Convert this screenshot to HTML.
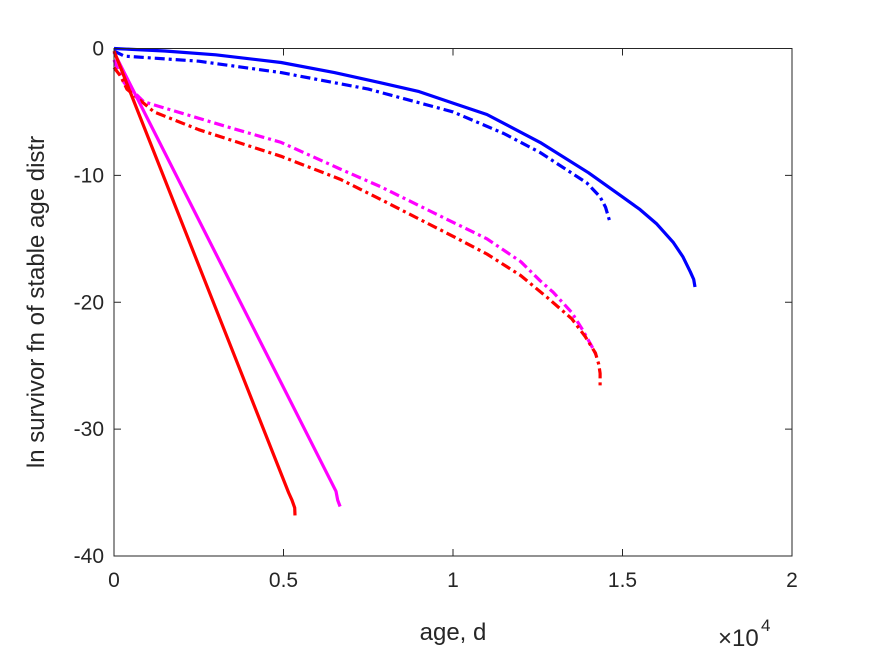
<!DOCTYPE html>
<html><head><meta charset="utf-8"><style>
html,body{margin:0;padding:0;background:#fff;}
svg{display:block;font-family:"Liberation Sans",Arial,sans-serif;}
</style></head><body>
<svg id="chart" width="875" height="656" viewBox="0 0 875 656">
<rect x="0" y="0" width="875" height="656" fill="#fff"/>
<g id="plot"></g>
<g id="axes"></g>
</svg>
<script>
const xTicks=[0,5000,10000,15000,20000];
const xTickLabels=["0","0.5","1","1.5","2"];
const yTicks=[0,-10,-20,-30,-40];
const yTickLabels=["0","-10","-20","-30","-40"];
const blueSolidX=[0,1500,3000,4930,6500,7870,9000,10000,11000,12570,14000,15000,15520,16000,16500,16780,17000,17100,17140];
const blueSolidY=[0,-0.2,-0.5,-1.1,-1.9,-2.7,-3.4,-4.3,-5.2,-7.4,-9.8,-11.7,-12.7,-13.8,-15.3,-16.4,-17.6,-18.2,-18.8];
const blueDashX=[0,300,2500,4930,7500,10000,11500,12570,13950,14340,14500,14630];
const blueDashY=[-0.2,-0.6,-1.0,-1.9,-3.2,-5.0,-6.7,-8.2,-10.6,-11.7,-12.5,-13.7];
const magDashX=[0,150,300,880,2000,3500,4930,6670,7870,10000,11000,12000,12570,12950,13500,13830,14100,14250];
const magDashY=[-0.9,-1.9,-2.7,-4.2,-5.1,-6.3,-7.4,-9.5,-10.9,-13.7,-15.0,-16.8,-18.3,-19.2,-20.8,-22.2,-23.5,-24.3];
const redDashX=[0,200,380,1180,2500,4930,6670,7870,10000,11000,12000,12770,13500,13900,14200,14300,14340,14340];
const redDashY=[-1.5,-2.2,-3.2,-5.0,-6.4,-8.5,-10.3,-11.9,-14.8,-16.2,-17.9,-19.6,-21.3,-22.7,-24.0,-24.9,-25.6,-26.7];
const magSolidX=[0,6550,6600,6670];
const magSolidY=[-0.3,-34.9,-35.6,-36.1];
const redSolidX=[0,5150,5250,5330,5340];
const redSolidY=[-0.2,-35.0,-35.6,-36.2,-36.8];

const L=114,R=792,T=48.5,B=556;
const X0=0,X1=20000,Y0=-40,Y1=0;
const sx=v=>L+(v-X0)/(X1-X0)*(R-L);
const sy=v=>B-(v-Y0)/(Y1-Y0)*(B-T);
const NS="http://www.w3.org/2000/svg";
const plot=document.getElementById('plot');
const axes=document.getElementById('axes');

function line(xs,ys,color,dash,name){
  const p=document.createElementNS(NS,'polyline');
  p.setAttribute('points',xs.map((x,i)=>sx(x).toFixed(1)+','+sy(ys[i]).toFixed(1)).join(' '));
  p.setAttribute('fill','none');
  p.setAttribute('stroke',color);
  p.setAttribute('stroke-width','3.2');
  p.setAttribute('stroke-linejoin','round');
  if(dash)p.setAttribute('stroke-dasharray',dash);
  
  
  plot.appendChild(p);
}
const DD='10 4 3 4';
line(magDashX,magDashY,'#ff00ff',DD,'magenta-dashdot-line');
line(redDashX,redDashY,'#ff0000',DD,'red-dashdot-line');
line(blueDashX,blueDashY,'#0000ff',DD,'blue-dashdot-line');
line(blueSolidX,blueSolidY,'#0000ff',null,'blue-solid-line');
line(magSolidX,magSolidY,'#ff00ff',null,'magenta-solid-line');
line(redSolidX,redSolidY,'#ff0000',null,'red-solid-line');

function el(tag,attrs,text){
  const e=document.createElementNS(NS,tag);
  for(const k in attrs)e.setAttribute(k,attrs[k]);
  if(text!==undefined)e.textContent=text;
  axes.appendChild(e);return e;
}
const box=el('rect',{x:L,y:T,width:R-L,height:B-T,fill:'none',stroke:'#262626','stroke-width':1});


xTicks.forEach((v,i)=>{
  const x=sx(v);
  const t1=el('line',{x1:x,x2:x,y1:B,y2:B-7,stroke:'#262626'});
  
  
  const t2=el('line',{x1:x,x2:x,y1:T,y2:T+7,stroke:'#262626'});
  
  
  const tx=el('text',{x:x,y:587,'font-size':21,'text-anchor':'middle',fill:'#262626'},xTickLabels[i]);
  
  
});
yTicks.forEach((v,i)=>{
  const y=sy(v);
  const t1=el('line',{x1:L,x2:L+7,y1:y,y2:y,stroke:'#262626'});
  
  
  const t2=el('line',{x1:R,x2:R-7,y1:y,y2:y,stroke:'#262626'});
  
  
  const ty=el('text',{x:104,y:y+7,'font-size':21,'text-anchor':'end',fill:'#262626'},yTickLabels[i]);
  
  
});
const xl=el('text',{x:453,y:640,'font-size':24,'text-anchor':'middle',fill:'#262626'},'age, d');


const yl=el('text',{x:0,y:0,'font-size':24,'text-anchor':'middle',fill:'#262626',transform:'translate(44,302) rotate(-90)'},'ln survivor fn of stable age distr');


const ex=el('text',{x:718,y:646,'font-size':24,fill:'#262626'},'×10');


const ex2=el('text',{x:761,y:631,'font-size':17,fill:'#262626'},'4');


</script>
</body></html>
